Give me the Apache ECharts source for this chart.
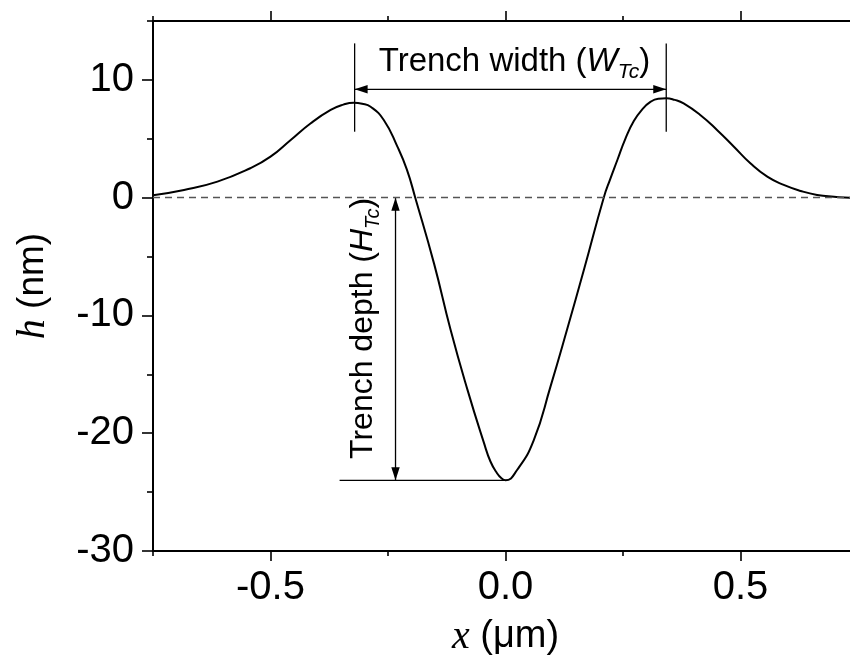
<!DOCTYPE html>
<html><head><meta charset="utf-8">
<script src="https://cdn.jsdelivr.net/npm/echarts@6/dist/echarts.min.js"></script>
<style>html,body{margin:0;padding:0;background:#fff}#c{width:850px;height:658px}</style>
</head><body><div id="c"></div>
<script>
// ---- data ----
const curveX = [-0.75,-0.684,-0.613,-0.543,-0.5,-0.457,-0.415,-0.372,-0.345,-0.323,-0.305,-0.287,-0.259,-0.230,-0.210,-0.192,-0.152,-0.117,-0.081,-0.046,-0.032,-0.018,-0.008,0.0,0.025,0.060,0.096,0.131,0.167,0.209,0.223,0.238,0.255,0.273,0.291,0.309,0.325,0.342,0.360,0.379,0.415,0.450,0.486,0.521,0.557,0.592,0.628,0.663,0.699,0.734,0.75];
const curveH = [0.2,0.65,1.36,2.5,3.48,4.9,6.3,7.45,7.9,8.06,7.98,7.72,6.6,4.33,2.4,0,-5.6,-11.2,-16.3,-20.8,-22.4,-23.4,-23.85,-24.0,-23.1,-20.6,-16.0,-11.2,-6.1,0,1.6,3.2,5.0,6.5,7.5,8.15,8.4,8.44,8.3,8.0,7.0,5.75,4.33,2.92,1.78,1.08,0.57,0.23,0.08,0.0,0.0];
const xMajorTicks = [-0.5, 0, 0.5];
const xMinorTicks = [-0.75, -0.25, 0.25, 0.75];
const yMajorTicks = [-30, -20, -10, 0, 10];
const yMinorTicks = [-25, -15, -5, 5, 15];
const xRange = [-0.75, 0.75];
const yRange = [-30, 15];
// annotation values (data units)
const widthMarkX = [-0.321, 0.342];      // x of the two peaks
const widthMarkH = [5.6, 13.1];          // vertical extent of marker lines
const widthArrowH = [9.2];               // height of width arrow
const widthLabelPos = [0.019, 11.5];
const depthArrowX = [-0.234];
const depthRange = [0, -24];
const depthBaseX = [-0.353, 0];
const depthLabelPos = [-0.302, -11.1];
const widthLabel = ['Trench width (', 'W', 'Tc', ')'];
const depthLabel = ['Trench depth (', 'H', 'Tc', ')'];

const SANS = 'Liberation Sans, Arial, sans-serif';
const SERIF = 'Liberation Serif, Times New Roman, serif';

const chart = echarts.init(document.getElementById('c'), null, {renderer: 'canvas'});

const axisLineStyle = {color: '#000', width: 2};
function xAxisDef(position, ticks, len, showLine, labels) {
  return {
    type: 'value', position: position, min: xRange[0], max: xRange[1],
    axisLine: {show: showLine, onZero: false, lineStyle: axisLineStyle},
    axisTick: {show: true, inside: false, customValues: ticks, length: len, lineStyle: {color: '#000', width: 1.6}},
    axisLabel: labels ? {show: true, customValues: ticks, formatter: v => v.toFixed(1), fontSize: 40, fontFamily: SANS, color: '#000', margin: 17} : {show: false},
    splitLine: {show: false}
  };
}
function yAxisDef(ticks, len, showLine, labels) {
  return {
    type: 'value', position: 'left', min: yRange[0], max: yRange[1],
    axisLine: {show: showLine, onZero: false, lineStyle: axisLineStyle},
    axisTick: {show: true, inside: false, customValues: ticks, length: len, lineStyle: {color: '#000', width: 1.6}},
    axisLabel: labels ? {show: true, customValues: ticks, formatter: v => String(v), fontSize: 40, fontFamily: SANS, color: '#000', margin: 19} : {show: false},
    splitLine: {show: false}
  };
}

const xMain = xAxisDef('bottom', xMajorTicks, 10, true, true);
xMain.name = '{i|x}{n| (μm)}';
xMain.nameLocation = 'middle';
xMain.nameGap = 66;
xMain.nameTextStyle = {rich: {
  i: {fontFamily: SERIF, fontStyle: 'italic', fontSize: 40, color: '#000'},
  n: {fontFamily: SANS, fontSize: 38, color: '#000'}
}};
const yMain = yAxisDef(yMajorTicks, 11, true, true);
yMain.name = '{i|h}{n| (nm)}';
yMain.nameLocation = 'middle';
yMain.nameGap = 100;
yMain.nameTextStyle = {rich: {
  i: {fontFamily: SERIF, fontStyle: 'italic', fontSize: 40, color: '#000'},
  n: {fontFamily: SANS, fontSize: 37, color: '#000'}
}};

function richLabel(parts, x, y, rot, fs) {
  return {
    type: 'text', x: x, y: y, rotation: rot || 0,
    style: {
      text: '{a|' + parts[0] + '}{w|' + parts[1] + '}{s|' + parts[2] + '}{a|' + parts[3] + '}',
      align: 'center', verticalAlign: 'middle',
      rich: {
        a: {fontFamily: SANS, fontSize: fs, lineHeight: 40, fill: '#000', verticalAlign: 'middle'},
        w: {fontFamily: SANS, fontStyle: 'italic', fontSize: fs, lineHeight: 40, fill: '#000', verticalAlign: 'middle'},
        s: {fontFamily: SANS, fontStyle: 'italic', fontSize: Math.round(fs * 0.64), lineHeight: 12, fill: '#000', verticalAlign: 'bottom'}
      }
    }
  };
}

function renderAnnotations(params, api) {
  const ls = {stroke: '#000', lineWidth: 1.3};
  const ch = [];
  const seg = (a, b) => ch.push({type: 'line', shape: {x1: a[0], y1: a[1], x2: b[0], y2: b[1]}, style: ls});
  const head = (tip, dx, dy) => {
    const L = 13, W = 4.2;
    const bx = tip[0] - dx * L, by = tip[1] - dy * L;
    ch.push({type: 'polygon', shape: {points: [tip, [bx - dy * W, by + dx * W], [bx + dy * W, by - dx * W]]}, style: {fill: '#000'}});
  };
  widthMarkX.forEach(x => seg(api.coord([x, widthMarkH[0]]), api.coord([x, widthMarkH[1]])));
  const wl = api.coord([widthMarkX[0], widthArrowH[0]]), wr = api.coord([widthMarkX[1], widthArrowH[0]]);
  seg(wl, wr); head(wl, -1, 0); head(wr, 1, 0);
  const wp = api.coord(widthLabelPos);
  ch.push(richLabel(widthLabel, wp[0], wp[1], 0, 33));
  const dt = api.coord([depthArrowX[0], depthRange[0]]), db = api.coord([depthArrowX[0], depthRange[1]]);
  seg(dt, db); head(dt, 0, -1); head(db, 0, 1);
  seg(api.coord([depthBaseX[0], depthRange[1]]), api.coord([depthBaseX[1], depthRange[1]]));
  const dp = api.coord(depthLabelPos);
  ch.push(richLabel(depthLabel, dp[0], dp[1], Math.PI / 2, 32));
  return {type: 'group', children: ch};
}

chart.setOption({
  animation: false,
  backgroundColor: '#fff',
  grid: {left: 153, top: 21, width: 705, height: 530, outerBoundsMode: 'none', containLabel: false},
  xAxis: [
    xMain,
    xAxisDef('bottom', xMinorTicks, 5, false, false),
    xAxisDef('top', xMajorTicks, 10, true, false),
    xAxisDef('top', xMinorTicks, 5, false, false)
  ],
  yAxis: [
    yMain,
    yAxisDef(yMinorTicks, 6, false, false)
  ],
  series: [
    {
      type: 'line', xAxisIndex: 0, yAxisIndex: 0,
      data: curveX.map((x, i) => [x, curveH[i]]),
      showSymbol: false, smooth: 0.5,
      lineStyle: {color: '#000', width: 2},
      z: 3,
      markLine: {
        silent: true, symbol: 'none', label: {show: false},
        lineStyle: {color: '#555', type: [7, 5], width: 1.4},
        data: [{yAxis: 0}]
      }
    },
    {
      type: 'custom', xAxisIndex: 0, yAxisIndex: 0, silent: true, clip: false, z: 4,
      data: [[0, 0]],
      renderItem: renderAnnotations
    }
  ]
});
</script></body></html>
